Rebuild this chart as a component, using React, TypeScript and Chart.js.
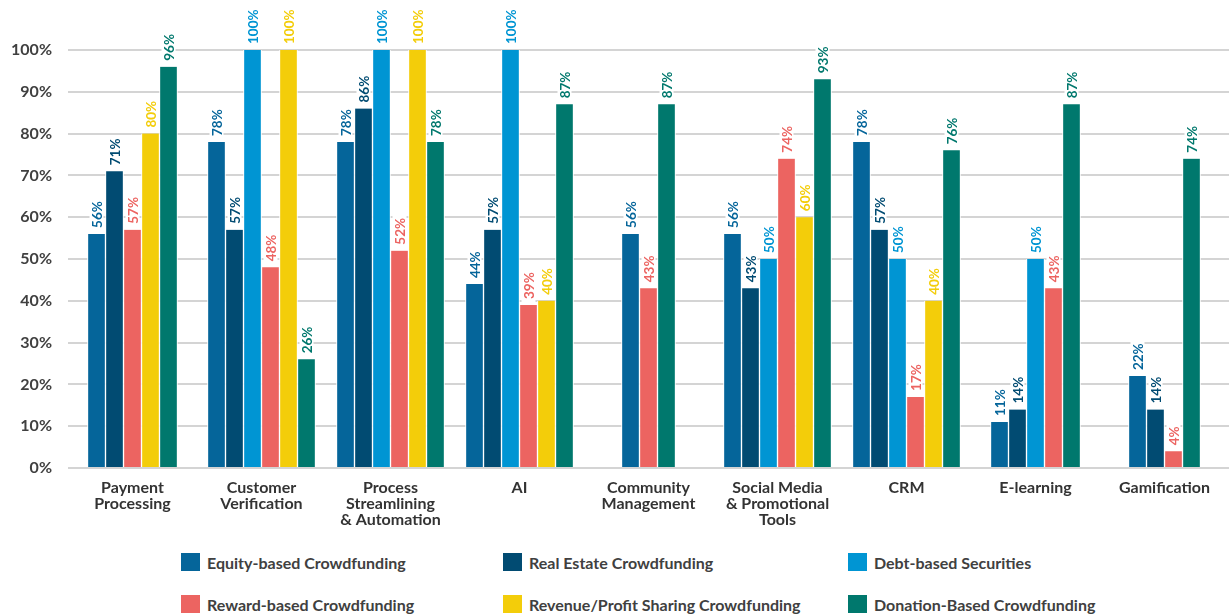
import React, { useEffect, useRef } from "react";
import { Chart, registerables } from "chart.js";

Chart.register(...registerables);

const CATEGORIES: (string | string[])[] = [
  ["Payment", "Processing"],
  ["Customer", "Verification"],
  ["Process", "Streamlining", "& Automation"],
  "AI",
  ["Community", "Management"],
  ["Social Media", "& Promotional", "Tools"],
  "CRM",
  "E-learning",
  "Gamification",
];

const SERIES_NAMES = [
  "Equity-based Crowdfunding",
  "Real Estate Crowdfunding",
  "Debt-based Securities",
  "Reward-based Crowdfunding",
  "Revenue/Profit Sharing Crowdfunding",
  "Donation-Based Crowdfunding",
];

const SERIES_COLORS = ["#05659a", "#014b72", "#0095d3", "#ec6461", "#f3cd0a", "#00786d"];

const EQUITY = [56, 78, 78, 44, 56, 56, 78, 11, 22];
const REAL_ESTATE = [71, 57, 86, 57, null, 43, 57, 14, 14];
const DEBT = [null, 100, 100, 100, null, 50, 50, 50, null];
const REWARD = [57, 48, 52, 39, 43, 74, 17, 43, 4];
const REVENUE = [80, 100, 100, 40, null, 60, 40, null, null];
const DONATION = [96, 26, 78, 87, 87, 93, 76, 87, 74];

const SERIES_VALUES = [EQUITY, REAL_ESTATE, DEBT, REWARD, REVENUE, DONATION];

const Y_TICKS = [0, 10, 20, 30, 40, 50, 60, 70, 80, 90, 100];

const FONT = "Lato, 'Open Sans', sans-serif";

const valueLabels = {
  id: "valueLabels",
  afterDatasetsDraw(chart: any) {
    const ctx = chart.ctx as CanvasRenderingContext2D;
    chart.data.datasets.forEach((ds: any, di: number) => {
      const meta = chart.getDatasetMeta(di);
      meta.data.forEach((bar: any, i: number) => {
        const v = ds.data[i];
        if (v == null) return;
        const { x, y } = bar.getProps(["x", "y"], true);
        const text = v + "%";
        ctx.save();
        ctx.font = `bold 13.5px ${FONT}`;
        const w = ctx.measureText(text).width;
        ctx.translate(x, y - 6);
        ctx.rotate(-Math.PI / 2);
        ctx.fillStyle = "#ffffff";
        ctx.fillRect(-3, -7, w + 6, 14);
        ctx.fillStyle = SERIES_COLORS[di];
        ctx.textAlign = "left";
        ctx.textBaseline = "middle";
        ctx.fillText(text, 0, 1);
        ctx.restore();
      });
    });
  },
};

export default function App() {
  const canvasRef = useRef<HTMLCanvasElement>(null);

  useEffect(() => {
    if (!canvasRef.current) return;
    const chart = new Chart(canvasRef.current, {
      type: "bar",
      data: {
        labels: CATEGORIES,
        datasets: SERIES_NAMES.map((name, i) => ({
          label: name,
          data: SERIES_VALUES[i],
          backgroundColor: SERIES_COLORS[i],
          borderColor: "#ffffff",
          borderWidth: { left: 1, right: 1, top: 0, bottom: 0 },
          borderSkipped: false,
          barThickness: 18,
          skipNull: true,
        })) as any,
      },
      options: {
        responsive: false,
        animation: false,
        layout: { padding: { top: 50, left: 0, right: 0, bottom: 0 } },
        plugins: {
          legend: { display: false },
          tooltip: { enabled: false },
        },
        scales: {
          x: {
            grid: { display: false, drawTicks: false },
            border: { display: false },
            ticks: {
              padding: 12,
              color: "#333333",
              font: { family: FONT, size: 16, weight: "bold", lineHeight: 1.0 },
              maxRotation: 0,
              autoSkip: false,
            },
            afterFit(scale: any) {
              scale.height = 72;
            },
          },
          y: {
            min: 0,
            max: 100,
            afterBuildTicks(scale: any) {
              scale.ticks = Y_TICKS.map((v) => ({ value: v }));
            },
            grid: { color: "#d4d4d4", lineWidth: 2, drawTicks: false },
            border: { display: false },
            ticks: {
              padding: 16,
              color: "#404040",
              font: { family: FONT, size: 16, weight: "bold" },
              callback: (v: any) => v + "%",
            },
            afterFit(scale: any) {
              scale.width = 68;
            },
          },
        },
      },
      plugins: [valueLabels],
    });
    return () => chart.destroy();
  }, []);

  const legendCols = [181, 503, 848];
  const legendRows = [562, 604];

  return (
    <div style={{ position: "absolute", left: 0, top: 0, width: 1229, height: 614, background: "#fff", overflow: "hidden" }}>
      <canvas ref={canvasRef} width={1229} height={540} style={{ display: "block" }} />
      {SERIES_NAMES.map((name, i) => {
        const col = i % 3;
        const row = Math.floor(i / 3);
        return (
          <div
            key={name}
            style={{
              position: "absolute",
              left: legendCols[col],
              top: legendRows[row] - 9,
              height: 18,
              display: "flex",
              alignItems: "center",
              whiteSpace: "nowrap",
              fontFamily: FONT,
              fontWeight: "bold",
              fontSize: 16,
              color: "#404040",
            }}
          >
            <span style={{ display: "inline-block", flex: "none", width: 19, height: 18, background: SERIES_COLORS[i], marginRight: 7 }} />
            <span>{name}</span>
          </div>
        );
      })}
    </div>
  );
}
